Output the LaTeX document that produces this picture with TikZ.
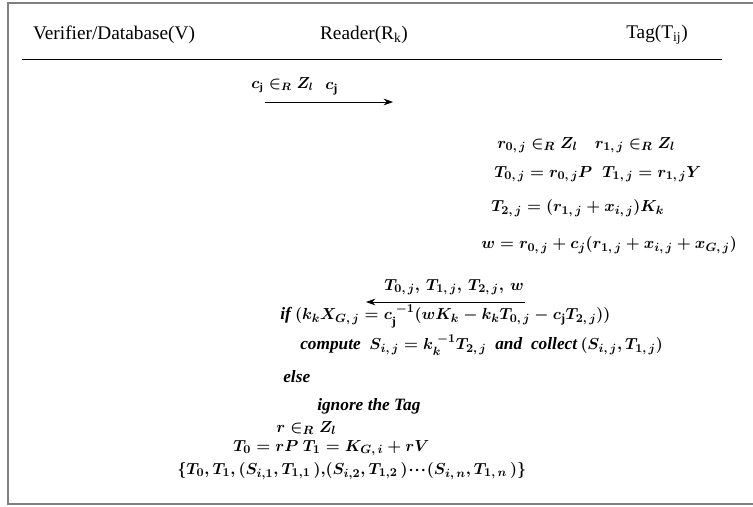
\documentclass[tikz,border=0pt]{standalone}
\usepackage{amsmath, amssymb, bm}
\usepackage{fontspec}
\setmainfont{Liberation Serif}
\usetikzlibrary{arrows.meta}

\begin{document}
\begin{tikzpicture}[x=0.0264cm, y=-0.0264cm,
        hdr/.style={font=\fontsize{14.5}{16}\selectfont, inner sep=0pt},
        eq/.style={anchor=west, inner sep=0pt, font=\fontsize{13}{15}\selectfont\boldmath},
        msg/.style={-{Stealth[length=7pt, width=5pt]}, semithick}]
        \useasboundingbox (0,0) rectangle (753,506);
        %外枠（右側は切れている）
        \draw[gray, line width=1.1pt] (753,3)--(8,3)--(8,504)--(753,504);
        %見出し
        \node[hdr] (hV) at (114,35) {Verifier/Database(V)};
        \node[hdr] (hR) at (364,35) {Reader(R\textsubscript{k})};
        \node[hdr] (hT) at (657,35) {Tag(T\textsubscript{ij})};
        \draw[semithick] (22,59)--(722,59);
        %Reader -> Tag
        \node[eq, font=\fontsize{12}{14}\selectfont\boldmath] (cj) at (251,85) {$c_{\mathrm{j}} \in_{R} Z_{l}$};
        \coordinate (m1s) at (265,102);
        \coordinate (m1e) at (393,102);
        \draw[msg] (m1s)--(m1e);
        \node[eq] (m1) at (325,89) {$c_{\mathrm{j}}$};
        %Tag の計算
        \node[eq] (tr) at (497,145) {$r_{0,\,j} \in_{R} Z_{l} \quad r_{1,\,j} \in_{R} Z_{l}$};
        \node[eq] (tT) at (494,174) {$T_{0,\,j} = r_{0,\,j}P \;\; T_{1,\,j} = r_{1,\,j}Y$};
        \node[eq] (tT2) at (491,208) {$T_{2,\,j} = (r_{1,\,j} + x_{i,\,j})K_{k}$};
        \node[eq] (tw) at (481,245) {$w = r_{0,\,j} + c_{j}(r_{1,\,j} + x_{i,\,j} + x_{G,\,j})$};
        %Tag -> Reader
        \coordinate (m2s) at (525,302);
        \coordinate (m2e) at (366,302);
        \draw[msg] (m2s)--(m2e);
        \node[eq] (m2) at (384,287) {$T_{0,\,j},\, T_{1,\,j},\, T_{2,\,j},\, w$};
        %Reader の検証
        \node[eq] (rif) at (280,316) {\textbf{\textit{if}}\,$(k_{k} X_{G,\,j} = c_{\mathrm{j}}^{\;-1}(wK_{k} - k_{k}T_{0,\,j} - c_{\mathrm{j}}T_{2,\,j}))$};
        \node[eq] (rcp) at (300,345) {\textbf{\textit{compute}}\ \ $S_{i,\,j} = k_{k}^{\;-1}T_{2,\,j}$\ \ \textbf{\textit{and}}\ \ \textbf{\textit{collect}}\,$(S_{i,\,j}, T_{1,\,j})$};
        \node[eq] (rel) at (283,377) {\textbf{\textit{else}}};
        \node[eq] (rig) at (317,406) {\textbf{\textit{ignore}}\ \textbf{\textit{the}}\ \textbf{\textit{Tag}}};
        \node[eq] (rr) at (276,428) {$r \in_{R} Z_{l}$};
        \node[eq] (rT) at (233,448) {$T_{0} = rP\ T_{1} = K_{G,\,i} + rV$};
        \node[eq] (rset) at (177,471) {$\{T_{0}, T_{1}, (S_{i,1}, T_{1,1}\,),\! (S_{i,2}, T_{1,2}\,)\!\cdot\!\cdot\!\cdot\!(S_{i,\,n}, T_{1,\,n}\,)\}$};
    \end{tikzpicture}
\end{document}
